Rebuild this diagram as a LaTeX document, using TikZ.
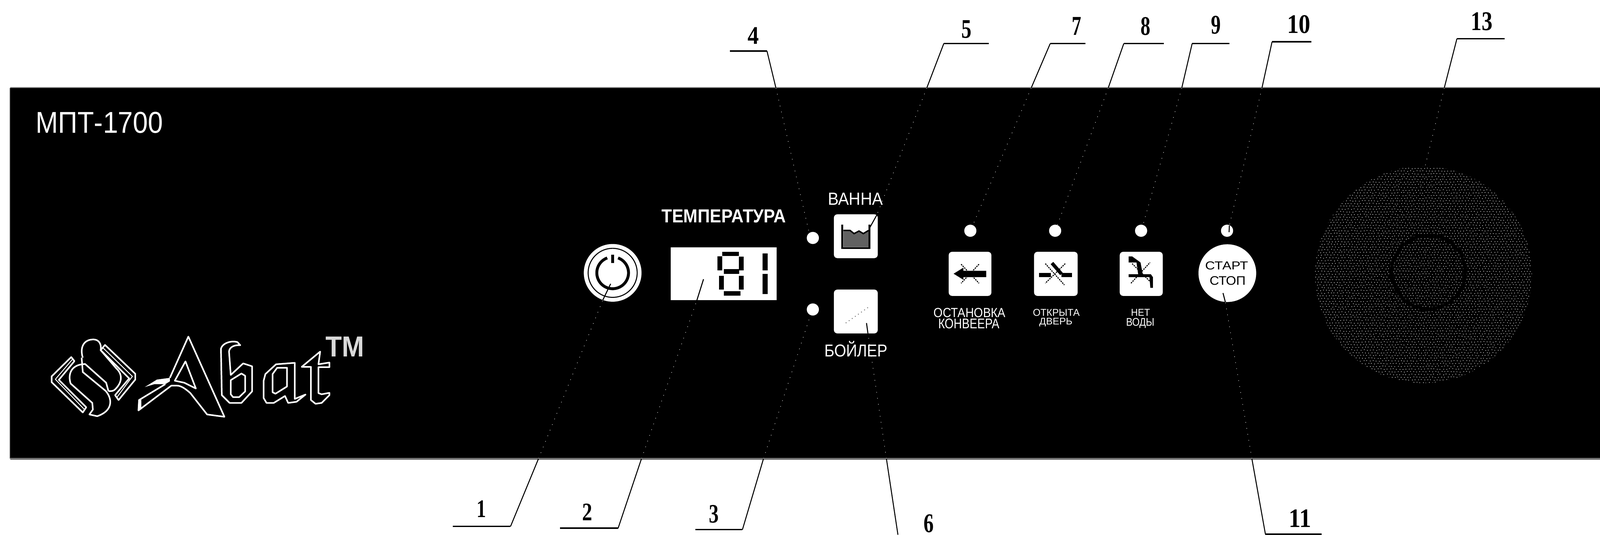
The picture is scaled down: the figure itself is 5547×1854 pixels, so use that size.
\documentclass[tikz,border=0pt]{standalone}
\usepackage{graphicx}
\usepackage{fontspec}
\setmainfont{Liberation Sans}
\newfontfamily\numfont{Liberation Serif}
\newdimen\pxu \pxu=0.01cm
% name, colour, x, baseline y, width, height, text
\newcommand\fitlabel[7]{\node[anchor=base west,inner sep=0pt,outer sep=0pt,text=#2] (#1) at (#3,#4) {\resizebox{#5\pxu}{#6\pxu}{#7}};}
\newcommand\numlabel[6]{\fitlabel{#1}{black}{#2}{#3}{#4}{#5}{\numfont\bfseries #6}}
\tikzset{
  panel/.style={fill=black},
  whitebtn/.style={draw=none,fill=white,rounded corners=0.12cm,inner sep=0pt,outer sep=0pt},
  led/.style={circle,fill=white,draw=none,inner sep=0pt,outer sep=0pt,minimum size=0.42cm},
  under/.style={draw=black,line width=0.5mm},
  leadline/.style={draw=black,line width=0.33mm},
  leaddots/.style={draw=white!85!black,line width=0.18mm,dash pattern=on 0.025cm off 0.185cm},
  leaddark/.style={draw=black,line width=0.35mm},
  seg/.style={fill=black},
  cross/.style={draw=black,line width=0.35mm,dash pattern=on 0.05cm off 0.03cm},
  logo/.style={draw=white,line width=0.055cm,line join=round},
  knobdot/.style={fill=white!88!black}
}
\begin{document}
\begin{tikzpicture}[x=0.01cm,y=-0.01cm]
\useasboundingbox (0,0) rectangle (5547,1854);
\fill[white] (0,0) rectangle (5547,1854);
\fill[panel] (36,305) rectangle (5547,1590);
\fill[black!55] (36,1588) rectangle (5547,1594);
\fill[black!45] (36,302) rectangle (5547,305);
\fill[black!55] (33,305) rectangle (36,1590);

% model name
\fitlabel{model}{white}{124}{461}{441}{73}{МПТ-1700}

% logo: chevrons and S
\draw[logo] (247,1238) -- (179,1305) -- (179,1325) -- (287,1430) -- (299,1412) -- (204,1317) -- (258,1252) -- cycle;
\draw[logo,line width=0.03cm] (252,1245) -- (192,1315) -- (293,1420);
\draw[logo] (364,1196) -- (469,1296) -- (469,1316) -- (411,1387) -- (399,1370) -- (448,1312) -- (349,1214) -- cycle;
\draw[logo,line width=0.03cm] (356,1205) -- (459,1305) -- (405,1378);
\draw[logo] (287,1240) .. controls (276,1205) and (290,1176) .. (325,1177) .. controls (345,1178) and (352,1195) .. (349,1214) -- (403,1277) .. controls (425,1297) and (425,1325) .. (399,1350) .. controls (392,1357) and (385,1356) .. (376,1356);
\draw[logo] (283,1240) -- (287,1290) -- (366,1355) .. controls (392,1385) and (390,1425) .. (337,1443) -- (310,1437) -- (322,1420) -- (320,1397) -- (245,1330) .. controls (235,1300) and (245,1268) .. (285,1263) -- (295,1262) -- (368,1327) -- (376,1356);
% logo: A
\draw[logo] (589,1310) -- (653,1167) -- (778,1445) -- (718,1437) -- (660,1363) .. controls (640,1345) and (625,1337) .. (614,1337) -- (594,1337) -- (480,1423) -- (482,1387) -- (573,1332);
\fill[white] (502,1342) -- (544,1316) -- (589,1310) -- (589,1322) -- (573,1332) -- (535,1332) -- cycle;
\fill[white] (480,1385) -- (490,1385) -- (490,1418) -- (480,1425) -- cycle;
\draw[logo] (643,1253) -- (606,1320) -- (639,1327) -- (679,1347) -- cycle;
% logo: b
\draw[logo] (769,1370) -- (766,1210) .. controls (770,1190) and (800,1180) .. (823,1186) -- (833,1197) .. controls (810,1195) and (795,1205) .. (794,1219) -- (800,1300) -- (843,1260) -- (874,1270) -- (874,1357) -- (837,1397) -- (796,1397) -- cycle;
\draw[logo] (800,1318) -- (837,1295) -- (850,1303) -- (850,1357) -- (829,1377) -- (808,1377) -- (800,1367) -- cycle;
% logo: a
\draw[logo] (920,1297) -- (957,1263) -- (1022,1258) -- (1022,1383) -- (1059,1368) -- (1028,1393) -- (999,1397) -- (988,1373) -- (949,1397) -- (924,1397) -- (914,1380) -- (914,1320) -- cycle;
\draw[logo] (945,1297) -- (961,1275) -- (995,1275) -- (995,1340) -- (955,1365) -- (945,1360) -- cycle;
% logo: t
\draw[logo] (1110,1219) -- (1046,1272) -- (1078,1272) -- (1078,1387) -- (1094,1400) -- (1115,1397) -- (1142,1370) -- (1142,1362) -- (1115,1367) -- (1104,1363) -- (1104,1273) -- (1142,1273) -- (1142,1257) -- (1104,1263) -- cycle;
\fitlabel{tm}{white!85!black}{1129}{1236}{134}{69}{\bfseries ТМ}

% power button
\node[circle,fill=white,inner sep=0pt,outer sep=0pt,minimum size=2cm] (power) at (2124,946) {};
\draw[black,line width=0.035cm] (power.center) circle[radius=85];
\draw[black,line width=0.1cm] (2124,946) ++(290:55) arc[start angle=290,end angle=610,x radius=55,y radius=55];
\draw[black,line width=0.1cm] (2124,883) -- (2124,912);

% temperature display
\fitlabel{temp}{white}{2294}{772}{431}{45}{\bfseries ТЕМПЕРАТУРА}
\node[fill=white,inner sep=0pt,outer sep=0pt,minimum width=3.67cm,minimum height=1.83cm] (display) at (2508.5,949.5) {};
\fill[seg] (2504,873) rectangle (2562,888);
\fill[seg] (2487,889) rectangle (2504,937);
\fill[seg] (2562,890) rectangle (2578,937);
\fill[seg] (2509,933) rectangle (2563,950);
\fill[seg] (2493,956) rectangle (2509,1004);
\fill[seg] (2562,956) rectangle (2578,1004);
\fill[seg] (2509,1009) rectangle (2567,1025);
\fill[seg] (2644,879) rectangle (2661,937);
\fill[seg] (2644,950) rectangle (2661,1020);

% status LEDs
\node[led] (led4) at (2818,825) {};
\node[led] (led3) at (2818,1073) {};
\node[led] (led7) at (3364,800) {};
\node[led] (led8) at (3658,800) {};
\node[led] (led9) at (3956,800) {};
\node[led] (led10) at (4254,800) {};

% bath button
\fitlabel{bath}{white}{2870}{711}{191}{42}{ВАННА}
\node[whitebtn,minimum width=1.52cm,minimum height=1.52cm] (bathbtn) at (2967,819) {};
\fill[black!62] (2924,799) -- (2947,799) -- (2961,810) -- (2978,801) -- (2993,810) -- (3011,799) -- (3011,857) -- (2924,857) -- cycle;
\draw[black,line width=0.05cm] (2924,799) -- (2947,799) -- (2961,810) -- (2978,801) -- (2993,810) -- (3011,799);
\draw[black,line width=0.06cm] (2920,779) -- (2920,860) -- (3014,860) -- (3014,779);

% boiler button
\node[whitebtn,minimum width=1.52cm,minimum height=1.52cm] (boilbtn) at (2967,1080) {};
\draw[black!55,line width=0.03cm,dash pattern=on 0.03cm off 0.1cm] (2932,1120) -- (3015,1062);
\fitlabel{boil}{white}{2858}{1236}{219}{54}{БОЙЛЕР}

% indicator buttons
\node[whitebtn,minimum width=1.48cm,minimum height=1.53cm] (btnconv) at (3363,949.5) {};
\node[whitebtn,minimum width=1.51cm,minimum height=1.53cm] (btndoor) at (3660.5,949.5) {};
\node[whitebtn,minimum width=1.49cm,minimum height=1.53cm] (btnwater) at (3956.5,949.5) {};
% conveyor icon
\fill[black] (3306,949) -- (3340,928) -- (3340,939) -- (3419,939) -- (3419,961) -- (3340,961) -- (3340,970) -- cycle;
\draw[cross] (3332,916) -- (3394,982) (3394,916) -- (3332,982);
% door icon
\fill[black] (3602,946) rectangle (3643,961);
\fill[black] (3680,946) rectangle (3716,961);
\draw[black,line width=0.12cm] (3647,912) -- (3680,950);
\draw[cross] (3624,914) -- (3690,988) (3693,914) -- (3624,982);
% water icon
\fill[black] (3913,889) -- (3925,889) -- (3954,910) -- (3962,952) -- (3946,952) -- (3940,910) -- (3913,910) -- cycle;
\fill[black] (3913,951) -- (3990,951) -- (3997,961) -- (3997,998) -- (3988,998) -- (3985,961) -- (3913,961) -- cycle;
\draw[cross] (3921,982) -- (3987,910) (3925,914) -- (3995,984);

\fitlabel{t7a}{white}{3237}{1100}{249}{32}{ОСТАНОВКА}
\fitlabel{t7b}{white}{3253}{1139}{212}{34}{КОНВЕЕРА}
\fitlabel{t8a}{white}{3581}{1096}{162}{24}{ОТКРЫТА}
\fitlabel{t8b}{white}{3603}{1126}{115}{23}{ДВЕРЬ}
\fitlabel{t9a}{white}{3921}{1096}{66}{24}{НЕТ}
\fitlabel{t9b}{white}{3904}{1130}{98}{27}{ВОДЫ}

% start button
\node[circle,fill=white,inner sep=0pt,outer sep=0pt,minimum size=2cm] (start) at (4255,947) {};
\fitlabel{starta}{black}{4178}{935}{149}{28}{СТАРТ}
\fitlabel{startb}{black}{4194}{988}{125}{30}{СТОП}

% perforated knob
\begin{scope}[even odd rule]
\clip (4935,952) circle[radius=376] (4952,943) circle[radius=133] (4952,943) circle[radius=122];
\foreach \r in {0,...,84}{
  \foreach \c in {0,...,72}{
    \pgfmathsetmacro\dx{4550+10.8*\c+5.4*mod(\r,2)+1.5*rand}
    \pgfmathsetmacro\dy{565+9.4*\r+1.5*rand}
    \fill[knobdot] (\dx,\dy) circle[radius=1.6];
  }
}
\end{scope}
\coordinate (knob) at (4941,575);

% leader geometry
\coordinate (a1) at (1570,1825); \coordinate (b1) at (1770,1825); \coordinate (c1) at (1867,1590); \coordinate (d1) at (2090,1040); \coordinate (e1) at (2117,984);
\coordinate (a2) at (1941,1831); \coordinate (b2) at (2143,1831); \coordinate (c2) at (2224,1590); \coordinate (d2) at (2416,1041); \coordinate (e2) at (2439,968);
\coordinate (a3) at (2411,1836); \coordinate (b3) at (2574,1836); \coordinate (c3) at (2647,1590); \coordinate (d3) at (2810,1092);
\coordinate (a4) at (2530,177); \coordinate (b4) at (2659,177); \coordinate (c4) at (2690,305); \coordinate (d4) at (2805,806);
\coordinate (a5) at (3428,151); \coordinate (b5) at (3272,151); \coordinate (c5) at (3213,305); \coordinate (d5) at (3040,745); \coordinate (e5) at (3015,790);
\coordinate (b6) at (3113,1854); \coordinate (c6) at (3073,1590); \coordinate (d6) at (3009,1156); \coordinate (e6) at (3004,1120);
\coordinate (a7) at (3763,151); \coordinate (b7) at (3641,151); \coordinate (c7) at (3575,305); \coordinate (d7) at (3372,782);
\coordinate (a8) at (4035,151); \coordinate (b8) at (3896,151); \coordinate (c8) at (3842,305); \coordinate (d8) at (3665,782);
\coordinate (a9) at (4262,151); \coordinate (b9) at (4133,151); \coordinate (c9) at (4097,305); \coordinate (d9) at (3962,782);
\coordinate (a10) at (4546,145); \coordinate (b10) at (4410,145); \coordinate (c10) at (4375,305); \coordinate (d10) at (4262,782); \coordinate (e10) at (4261,805);
\coordinate (a11) at (4582,1852); \coordinate (b11) at (4387,1852); \coordinate (c11) at (4340,1590); \coordinate (d11) at (4248,1047); \coordinate (e11) at (4240,1016);
\coordinate (a13) at (5216,134); \coordinate (b13) at (5051,134); \coordinate (c13) at (5007,305);

% underlines and outer leader parts
\foreach \n in {1,2,3,4,5,7,8,9,10,11,13}{
  \draw[under] (a\n) -- (b\n);
  \draw[leadline] (b\n) -- (c\n);
}
\draw[leadline] (b6) -- (c6);
% dotted parts over the panel
\foreach \n in {1,2,3,4,5,6,7,8,9,10,11}{
  \draw[leaddots] (c\n) -- (d\n);
}
\draw[leaddots] (c13) -- (knob);
% dark ends inside the white parts
\foreach \n in {1,2,5,6,10,11}{
  \draw[leaddark] (d\n) -- (e\n);
}

% reference numbers
\numlabel{n1}{1652}{1793}{33}{58}{1}
\numlabel{n2}{2018}{1804}{35}{58}{2}
\numlabel{n3}{2458}{1812}{34}{61}{3}
\numlabel{n4}{2592}{153}{39}{58}{4}
\numlabel{n5}{3333}{132}{35}{61}{5}
\numlabel{n6}{3202}{1845}{35}{62}{6}
\numlabel{n7}{3716}{122}{33}{62}{7}
\numlabel{n8}{3954}{122}{34}{62}{8}
\numlabel{n9}{4199}{117}{34}{62}{9}
\numlabel{n10}{4462}{115}{81}{62}{10}
\numlabel{n11}{4468}{1828}{78}{61}{11}
\numlabel{n13}{5099}{105}{75}{62}{13}
\end{tikzpicture}
\end{document}
